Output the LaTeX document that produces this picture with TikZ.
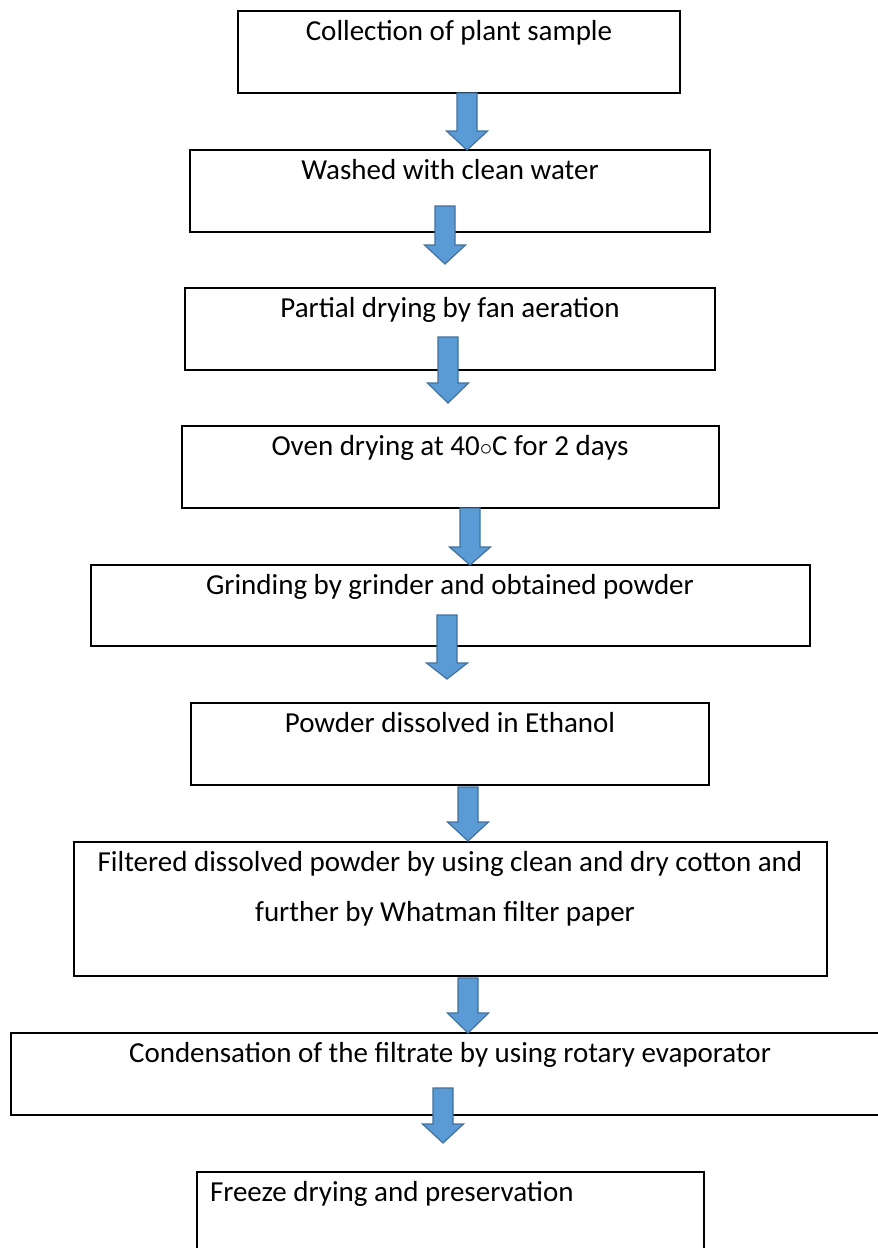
\documentclass[tikz,border=0pt]{standalone}
\usepackage{fontspec}
\setmainfont{Carlito}
\definecolor{arrowfill}{RGB}{91,155,213}
\definecolor{arrowline}{RGB}{65,113,156}
\tikzset{
  stepbox/.style={draw=black, line width=1.8pt, rectangle, inner sep=0pt, outer sep=0pt},
  lbl/.style={inner sep=0pt, outer sep=0pt, font=\fontsize{29}{35}\selectfont},
  blockarrow/.style={fill=arrowfill, draw=arrowline, line width=1.2pt, line join=miter}
}
\newcommand{\barrow}[5]{% name, cx, shaft top, head base, tip
  \coordinate (#1s) at (#2,#3);
  \coordinate (#1t) at (#2,#5);
  \draw[blockarrow] ([xshift=-10pt]#1s) -- ([xshift=10pt]#1s) -- (#2+10,#4) -- (#2+20.5,#4) -- (#1t) -- (#2-20.5,#4) -- (#2-10,#4) -- cycle;
}
\begin{document}
\begin{tikzpicture}[x=1pt,y=-1pt]
\useasboundingbox (0,0) rectangle (878,1248);
\fill[white] (0,0) rectangle (878,1248);
% boxes
\node[stepbox, minimum width=442pt, minimum height=82pt] (b1) at (459,52) {};
\node[stepbox, minimum width=520pt, minimum height=82pt] (b2) at (450,191) {};
\node[stepbox, minimum width=530pt, minimum height=82pt] (b3) at (450,329) {};
\node[stepbox, minimum width=537pt, minimum height=82pt] (b4) at (450.5,467) {};
\node[stepbox, minimum width=719pt, minimum height=81pt] (b5) at (450.5,605.5) {};
\node[stepbox, minimum width=518pt, minimum height=82pt] (b6) at (450,744) {};
\node[stepbox, minimum width=753pt, minimum height=134pt] (b7) at (450.5,909) {};
\node[stepbox, minimum width=878pt, minimum height=82pt] (b8) at (450,1074) {};
\node[stepbox, minimum width=507pt, minimum height=82pt] (b9) at (450.5,1213) {};
% texts
\node[lbl, anchor=base] (t1) at (459,40) {Collection of plant sample};
\node[lbl, anchor=base] (t2) at (450,179) {Washed with clean water};
\node[lbl, anchor=base] (t3) at (450,317) {Partial drying by fan aeration};
\node[lbl, anchor=base] (t4) at (450,455) {Oven drying at 40\(\circ\)C for 2 days};
\node[lbl, anchor=base] (t5) at (450,594) {Grinding by grinder and obtained powder};
\node[lbl, anchor=base] (t6) at (450,732) {Powder dissolved in Ethanol};
\node[lbl, anchor=base] (t7a) at (450,871) {Filtered dissolved powder by using clean and dry cotton and};
\node[lbl, anchor=base] (t7b) at (445,921) {further by Whatman filter paper};
\node[lbl, anchor=base] (t8) at (450,1062) {Condensation of the filtrate by using rotary evaporator};
\node[lbl, anchor=base west] (t9) at (210,1201) {Freeze drying and preservation};
% arrows
\barrow{a1}{467}{93}{131}{150}
\barrow{a2}{445}{206}{245}{264}
\barrow{a3}{448}{337}{383}{403}
\barrow{a4}{470}{508}{547}{565}
\barrow{a5}{447}{615}{663}{679}
\barrow{a6}{468}{787}{822}{841}
\barrow{a7}{468}{978}{1013}{1033}
\barrow{a8}{443}{1088}{1124}{1143}
\end{tikzpicture}
\end{document}
